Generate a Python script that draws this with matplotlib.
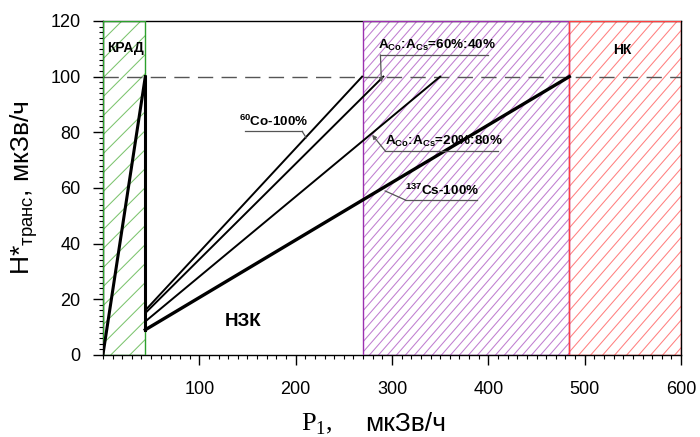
import numpy as np
import matplotlib
matplotlib.use('Agg')
import matplotlib.pyplot as plt
from matplotlib.patches import Rectangle
from matplotlib.ticker import MultipleLocator

plt.rcParams['font.family'] = ['Liberation Sans', 'DejaVu Sans']

# zones along P1 (mkSv/h)
krad = [0, 44]
nzk = [44, 270]
pk = [270, 484]
nk = [484, 600]
h_limit = 100

# lines (x, y)
steep_x = [0, 44]
steep_y = [0, 100]
vert_x = [44, 44]
vert_y = [9, 100]
co100_x = [44, 269]
co100_y = [16, 100]
co60_x = [44, 291]
co60_y = [15, 100]
co20_x = [44, 350]
co20_y = [12, 100]
cs100_x = [44, 484]
cs100_y = [9, 100]

fig = plt.figure(figsize=(7, 4.37), dpi=100)
ax = fig.add_axes([0.147, 0.188, 0.973 - 0.147, 0.952 - 0.188])
ax.set_xlim(0, 600)
ax.set_ylim(0, 120)

kx = 578 / 600.0   # px per x unit
ky = 334 / 120.0   # px per y unit


def zone(x0, x1, edge, hcol, step_px, slope_px):
    r = Rectangle((x0, 0), x1 - x0, 120, fill=False, edgecolor=edge, lw=1.0, zorder=3)
    ax.add_patch(r)
    m = slope_px * kx / ky
    run = 120 / m
    step = step_px / kx
    for c in np.arange(x0 - run, x1 + step, step):
        ln, = ax.plot([c, c + run], [0, 120], color=hcol, lw=0.75, zorder=1)
        ln.set_clip_path(r)


zone(krad[0], krad[1], '#2ca02c', '#7cc46e', 19, 1.0)
zone(pk[0], pk[1], '#9b30b0', '#c07ed0', 9, 1.15)
zone(nk[0], nk[1], '#ff4040', '#ff8080', 12, 1.15)

ax.axhline(h_limit, color='#555555', lw=1.0, dashes=(11, 6), zorder=2)

ax.plot(steep_x, steep_y, color='black', lw=2.2, zorder=4)
ax.plot(vert_x, vert_y, color='black', lw=2.2, zorder=4)
ax.plot(co100_x, co100_y, color='black', lw=1.4, zorder=4)
ax.plot(co60_x, co60_y, color='black', lw=1.4, zorder=4)
ax.plot(co20_x, co20_y, color='black', lw=1.4, zorder=4)
ax.plot(cs100_x, cs100_y, color='black', lw=2.4, zorder=4)

lead = dict(color='#555555', lw=0.9, zorder=5, clip_on=False)
arr = dict(arrowstyle='-|>', color='#555555', lw=0.9, mutation_scale=6, shrinkA=0, shrinkB=0)
fs = 9.7

# 60Co-100%
ax.plot([147.7, 206.8], [80.3, 80.3], **lead)
ax.plot([206.8, 211], [80.3, 78.0], **lead)
ax.text(141.5, 81.0, r'$^{\mathregular{60}}$Co-100%', fontsize=fs, fontweight='bold', ha='left', va='bottom', zorder=6)

# 60:40
ax.plot([288, 400], [107.8, 107.8], **lead)
ax.annotate('', xy=(289, 98), xytext=(288, 107.8), arrowprops=arr, zorder=5)
ax.text(285, 108.4, r'A$_{\mathregular{Co}}$:A$_{\mathregular{Cs}}$=60%:40%', fontsize=fs, fontweight='bold', ha='left', va='bottom', zorder=6)

# 20:80
ax.plot([293, 409.5], [73.3, 73.3], **lead)
ax.annotate('', xy=(279.4, 79.1), xytext=(293, 73.3), arrowprops=arr, zorder=5)
ax.text(293, 73.9, r'A$_{\mathregular{Co}}$:A$_{\mathregular{Cs}}$=20%:80%', fontsize=fs, fontweight='bold', ha='left', va='bottom', zorder=6)

# 137Cs-100%
ax.plot([313.6, 388.5], [55.7, 55.7], **lead)
ax.plot([313.6, 292.9], [55.7, 58.9], **lead)
ax.text(313, 56.3, r'$^{\mathregular{137}}$Cs-100%', fontsize=fs, fontweight='bold', ha='left', va='bottom', zorder=6)

ax.text(23, 110.3, 'КРАД', fontsize=10, fontweight='bold', ha='center', va='center', zorder=6)
ax.text(539, 109.6, 'НК', fontsize=10, fontweight='bold', ha='center', va='center', zorder=6)
ax.text(145.6, 11.9, 'НЗК', fontsize=13.5, fontweight='bold', ha='center', va='center', zorder=6)

ax.set_xticks([100, 200, 300, 400, 500, 600])
ax.set_yticks(np.arange(0, 121, 20))
ax.xaxis.set_minor_locator(MultipleLocator(10))
ax.yaxis.set_minor_locator(MultipleLocator(2))
ax.tick_params(which='major', direction='out', length=7, width=1, labelsize=13)
ax.tick_params(which='minor', direction='out', length=3, width=0.8)
ax.tick_params(axis='x', pad=12)
ax.tick_params(axis='y', pad=9)
for s in ax.spines.values():
    s.set_linewidth(1.0)

ax.set_ylabel(r'H*$_{\mathregular{транс}}$, мкЗв/ч', fontsize=19)
ax.yaxis.set_label_coords(-0.108, 0.5)
fig.text(0.453, 0.014, r'P$_{\mathregular{1}}$,', family='Liberation Serif', fontsize=19, ha='center', va='baseline')
fig.text(0.579, 0.014, 'мкЗв/ч', fontsize=19, ha='center', va='baseline')

fig.savefig('out.png', dpi=100)
